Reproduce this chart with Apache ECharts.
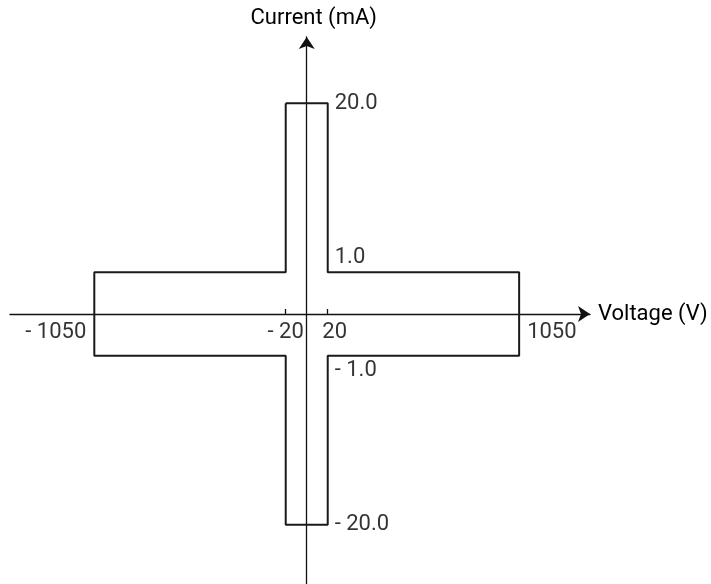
<!DOCTYPE html>
<html>
<head>
<meta charset="utf-8">
<script src="https://cdn.jsdelivr.net/npm/echarts@6/dist/echarts.min.js"></script>
<style>
  html, body { margin: 0; padding: 0; background: #fff; }
  #chart { width: 711px; height: 584px; }
</style>
</head>
<body>
<div id="chart"></div>
<script>
// outline of the operating region, walked corner by corner (V, mA)
var voltageCorners = [-20, 20, 20, 1050, 1050, 20, 20, -20, -20, -1050, -1050, -20, -20];
var currentCorners = [20, 20, 1, 1, -1, -1, -20, -20, -1, -1, 1, 1, 20];

var voltageTicks = [-1050, -20, 20, 1050];
var voltageLabels = ['- 1050', '- 20', '20', '1050'];
var currentTicks = [20, 1, -1, -20];
var currentLabels = ['20.0', '1.0', '- 1.0', '- 20.0'];

// the drawing is not to scale: outer ranges are squeezed
function squeeze(v, inner, k) {
    var a = Math.abs(v);
    var s = a <= inner ? a : inner + (a - inner) * k;
    return v < 0 ? -s : s;
}
function sx(v) { return squeeze(v, 20, 0.177); }
function sy(c) { return squeeze(c, 1, 0.2133); }

var outline = [];
for (var i = 0; i < voltageCorners.length; i++) {
    outline.push([sx(voltageCorners[i]), sy(currentCorners[i])]);
}

var font = 'Roboto';
var txt = { color: '#000', fontFamily: font, fontSize: 22 };

var labelData = [];
var vOff = [[-8, 18, 'right'], [0, 18, 'center'], [7, 18, 'center'], [8, 18, 'left']];
for (var i = 0; i < voltageTicks.length; i++) {
    labelData.push({
        name: voltageLabels[i],
        value: [sx(voltageTicks[i]), 0],
        label: { offset: [vOff[i][0], vOff[i][1]], align: vOff[i][2] }
    });
}
var cOff = [0, -15, 15, 0];
for (var i = 0; i < currentTicks.length; i++) {
    labelData.push({
        name: currentLabels[i],
        value: [sx(20), sy(currentTicks[i])],
        label: { offset: [7, cOff[i]], align: 'left' }
    });
}

var chart = echarts.init(document.getElementById('chart'));
chart.setOption({
    animation: false,
    grid: { left: 10, width: 580, top: 37, bottom: 0 },
    xAxis: {
        type: 'value',
        min: -282.6,
        max: 269.8,
        splitLine: { show: false },
        axisLabel: { show: false },
        axisLine: {
            onZero: true,
            symbol: ['none', 'arrow'],
            symbolSize: [12, 12],
            lineStyle: { color: '#111', width: 1.3 }
        },
        axisTick: {
            show: true,
            customValues: [sx(-20), sx(20)],
            inside: true,
            length: 5,
            lineStyle: { color: '#111', width: 1.3 }
        },
        name: 'Voltage (V)',
        nameLocation: 'end',
        nameGap: 8,
        nameTextStyle: txt
    },
    yAxis: {
        type: 'value',
        min: -6.475,
        max: 6.643,
        splitLine: { show: false },
        axisLabel: { show: false },
        axisTick: { show: false },
        axisLine: {
            onZero: true,
            symbol: ['none', 'arrow'],
            symbolSize: [12, 12],
            lineStyle: { color: '#111', width: 1.3 }
        },
        name: 'Current (mA)',
        nameLocation: 'end',
        nameGap: 8,
        nameTextStyle: Object.assign({ padding: [0, 0, 0, 14] }, txt)
    },
    series: [
        {
            type: 'line',
            data: outline,
            symbol: 'none',
            lineStyle: { color: '#1a1a1a', width: 2 },
            z: 3
        },
        {
            type: 'scatter',
            data: labelData,
            symbolSize: 0,
            silent: true,
            label: {
                show: true,
                position: 'inside',
                verticalAlign: 'middle',
                formatter: function (p) { return p.name; },
                color: '#000',
                fontFamily: font,
                fontSize: 22
            }
        }
    ]
});
</script>
</body>
</html>
